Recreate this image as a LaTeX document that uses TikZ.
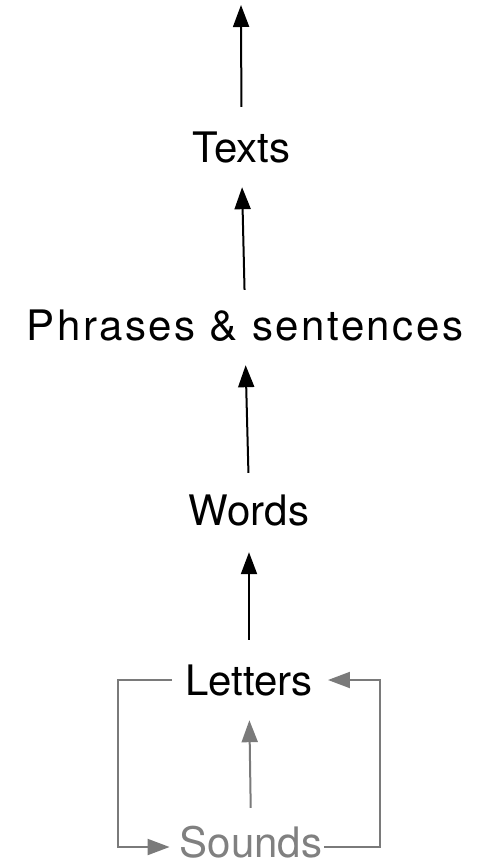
\documentclass[tikz,border=0pt]{standalone}
\usepackage{fontspec}
\setmainfont{TeX Gyre Heros}
\usetikzlibrary{arrows.meta}
\begin{document}
\begin{tikzpicture}[x=1pt,y=-1pt,
  level/.style={anchor=base,inner sep=0pt,text height=30pt,text depth=0pt,
    font=\fontsize{42}{46}\selectfont},
  up/.style={line width=2pt,-{Triangle[length=22pt,width=16pt]}},
  greyline/.style={draw=black!52,line width=2pt},
  greyup/.style={greyline,-{Triangle[length=22pt,width=16pt]}}]
  \useasboundingbox (0,0) rectangle (479,865);

  % levels, bottom to top
  \node[level] (texts)   at (241.5,162) {Texts};
  \node[level] (phrases) at (245,340)
    {\addfontfeature{LetterSpace=6}Phrases \& sentences};
  \node[level] (words)   at (249,525)   {Words};
  \node[level] (letters) at (249,695)   {Letters};
  \node[level,text=black!50] (sounds) at (251,857) {Sounds};
  \coordinate (top) at (241,5);

  % upward chain
  \draw[up,shorten <=25pt] (texts.north) -- (top);
  \draw[up,shorten <=20pt,shorten >=25pt] (phrases.north) -- (texts.south);
  \draw[up,shorten <=22pt,shorten >=25pt] (words.north) -- (phrases.south);
  \draw[up,shorten <=25pt,shorten >=27pt] (letters.north) -- (words.south);

  % sounds and letters feed each other
  \draw[greyup,shorten <=19pt,shorten >=25pt] (sounds.north) -- (letters.south);
  \draw[greyup,shorten <=13pt,shorten >=10pt]
    (letters.west) -- ++(-67,0) |- ([yshift=-5pt]sounds.west);
  \draw[greyup,shorten <=2pt,shorten >=15pt]
    ([yshift=-5pt]sounds.east) -- ++(58,0) |- (letters.east);
\end{tikzpicture}
\end{document}
